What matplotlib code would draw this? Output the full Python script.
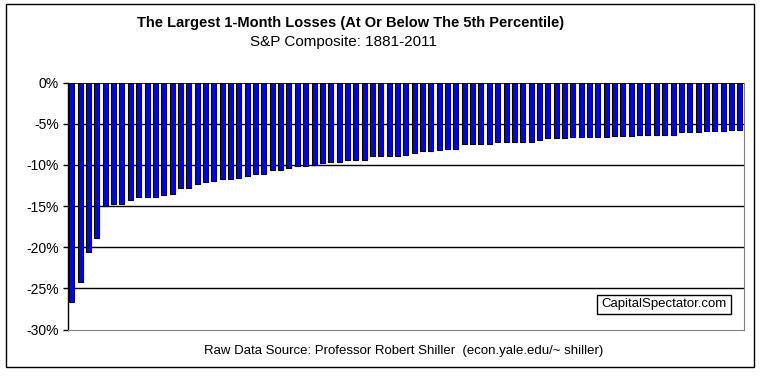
import matplotlib
matplotlib.use('Agg')
import matplotlib.pyplot as plt
from matplotlib.patches import Rectangle
from matplotlib.ticker import FuncFormatter

plt.rcParams['font.family'] = ['Liberation Sans', 'DejaVu Sans']

# ranked 1-month losses, %
ranks = list(range(1, 82))
losses = [-26.7, -24.2, -20.6, -18.9, -15.0, -14.8, -14.7, -14.3, -13.85, -13.85,
          -13.85, -13.6, -13.5, -12.75, -12.75, -12.35, -12.1, -12.0, -11.75, -11.75,
          -11.6, -11.4, -11.05, -11.05, -10.65, -10.65, -10.4, -10.15, -10.15, -10.0,
          -9.8, -9.7, -9.6, -9.4, -9.4, -9.4, -8.95, -8.95, -8.85, -8.85,
          -8.75, -8.6, -8.35, -8.35, -8.2, -8.1, -8.1, -7.5, -7.5, -7.4,
          -7.4, -7.25, -7.25, -7.15, -7.15, -7.15, -7.0, -6.75, -6.75, -6.75,
          -6.65, -6.65, -6.65, -6.65, -6.65, -6.5, -6.5, -6.5, -6.4, -6.3,
          -6.3, -6.3, -6.3, -6.05, -6.05, -6.05, -5.9, -5.9, -5.9, -5.8,
          -5.8]
yticks = [0, -5, -10, -15, -20, -25, -30]

title = 'The Largest 1-Month Losses (At Or Below The 5th Percentile)'
subtitle = 'S&P Composite: 1881-2011'
source = 'Raw Data Source: Professor Robert Shiller  (econ.yale.edu/~ shiller)'
stamp = 'CapitalSpectator.com'

W, H = 760, 376
fig = plt.figure(figsize=(W / 100, H / 100), dpi=100)
fig.patch.set_facecolor('white')

# outer chart border
fig.patches.append(Rectangle((6 / W, 9 / H), 748 / W, 363 / H, transform=fig.transFigure,
                             fill=False, edgecolor='black', linewidth=1))

ax = fig.add_axes([67.7 / W, (H - 329.5) / H, (744 - 67.7) / W, (329.5 - 82.7) / H])
ax.bar([r - 1 for r in ranks], losses, width=0.6, color='#0000FF', edgecolor='black',
       linewidth=0.8, zorder=3)
ax.set_xlim(-0.5, len(ranks) - 0.5)
ax.set_ylim(-30, 0)
ax.set_yticks(yticks)
ax.yaxis.set_major_formatter(FuncFormatter(lambda v, p: '%d%%' % v))
ax.set_xticks([])
for y in yticks[1:-1]:
    ax.axhline(y, color='black', linewidth=1, zorder=1)
ax.axhline(0, color='black', linewidth=1.2, zorder=4)
ax.spines['left'].set_color('black')
ax.spines['left'].set_linewidth(1)
for s in ['right', 'bottom']:
    ax.spines[s].set_color('#808080')
    ax.spines[s].set_linestyle((0, (1, 1)))
    ax.spines[s].set_linewidth(0.8)
ax.spines['top'].set_visible(False)
ax.tick_params(axis='y', direction='out', length=3.5, width=1, labelsize=10, pad=3)

fig.text(351 / W, 1 - 23 / H, title, ha='center', va='center', fontsize=10.5,
         fontweight='bold')
fig.text(343 / W, 1 - 42 / H, subtitle, ha='center', va='center', fontsize=11)
fig.text(404 / W, 1 - 351 / H, source, ha='center', va='center', fontsize=9.5)
fig.text(664 / W, 1 - 304.5 / H, stamp, ha='center', va='center', fontsize=9.5,
         bbox=dict(boxstyle='square,pad=0.3', facecolor='white', edgecolor='black',
                   linewidth=1))

fig.savefig('out.png', dpi=100)
